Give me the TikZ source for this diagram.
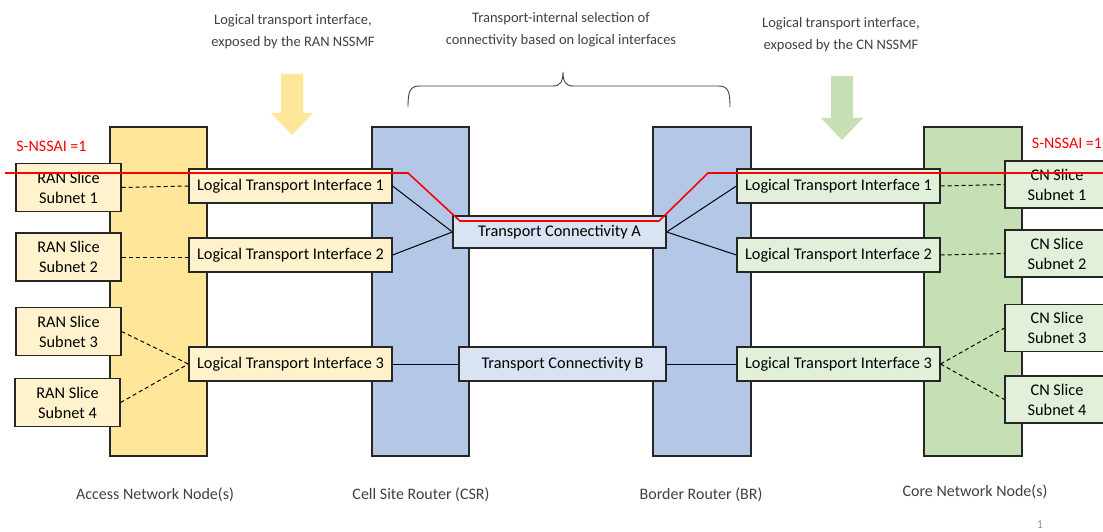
\documentclass[tikz,border=0pt]{standalone}
\usepackage{fontspec}
\setmainfont{Carlito}
\definecolor{colY}{HTML}{FFE699}
\definecolor{boxY}{HTML}{FFF2CC}
\definecolor{colB}{HTML}{B4C7E7}
\definecolor{boxB}{HTML}{DAE3F3}
\definecolor{colG}{HTML}{C5E0B4}
\definecolor{boxG}{HTML}{E2F0D9}
\definecolor{lbl}{HTML}{404040}
\definecolor{redl}{HTML}{FF0000}
\definecolor{pgc}{HTML}{8497B0}
\begin{document}
\begin{tikzpicture}[x=1pt,y=-1pt,
  col/.style={draw=black!85, line width=1.1pt},
  box/.style={draw=black!85, line width=1.2pt, inner sep=0pt, align=center,
    font=\fontsize{16.3}{20}\selectfont},
  ranbox/.style={box, fill=boxY, minimum width=105pt, minimum height=48pt},
  cnbox/.style={box, fill=boxG, minimum width=104pt, minimum height=47pt},
  ltiY/.style={box, fill=boxY, minimum width=203pt, minimum height=34pt},
  ltiG/.style={box, fill=boxG, minimum width=203pt, minimum height=34pt},
  tcbox/.style={box, fill=boxB, minimum height=33pt},
  conn/.style={draw=black, line width=1pt},
  dconn/.style={draw=black, line width=1pt, dash pattern=on 4pt off 3pt},
  toplbl/.style={text=lbl, align=center, font=\fontsize{14.5}{22}\selectfont},
  botlbl/.style={text=lbl, font=\fontsize{16}{19}\selectfont},
  redlbl/.style={text=redl, font=\fontsize{16}{19}\selectfont}]
\useasboundingbox (0,0) rectangle (1103,532);
% columns
\path[col, fill=colY] (110,127) rectangle (207,456);
\path[col, fill=colB] (372,127) rectangle (469,456);
\path[col, fill=colB] (653,127) rectangle (751,456);
\path[col, fill=colG] (924,127) rectangle (1022,456);
% arrows
\fill[colY] (281,74) -- (303,74) -- (303,113) -- (313,113) -- (292,135) -- (271,113) -- (281,113) -- cycle;
\fill[colG] (831,76) -- (853,76) -- (853,118) -- (863,118) -- (842,140) -- (821,118) -- (831,118) -- cycle;
% brace
\draw[lbl, line width=0.9pt] (408,107) .. controls (408,91) and (410,86) .. (420,86) -- (553,86)
  .. controls (560,86) and (563,82) .. (563,72)
  .. controls (563,82) and (566,86) .. (573,86) -- (718,86)
  .. controls (728,86) and (730,91) .. (730,107);
% top labels
\node[toplbl] (t1) at (293,32) {Logical transport interface,\\exposed by the RAN NSSMF};
\node[toplbl] (t2) at (561,30) {Transport-internal selection of\\connectivity based on logical interfaces};
\node[toplbl] (t3) at (841,35) {Logical transport interface,\\exposed by the CN NSSMF};
% RAN boxes
\node[ranbox] (r1) at (68.5,187.5) {RAN Slice\\Subnet 1};
\node[ranbox] (r2) at (68.5,257) {RAN Slice\\Subnet 2};
\node[ranbox] (r3) at (68.5,331.5) {RAN Slice\\Subnet 3};
\node[ranbox] (r4) at (67.5,402.5) {RAN Slice\\Subnet 4};
% left LTIs
\node[ltiY] (l1) at (290.5,186) {Logical Transport Interface 1};
\node[ltiY] (l2) at (290.5,255) {Logical Transport Interface 2};
\node[ltiY] (l3) at (290.5,364) {Logical Transport Interface 3};
% transport connectivity
\node[tcbox, minimum width=213pt, minimum height=32pt] (ta) at (559.5,232) {Transport Connectivity A};
\node[tcbox, minimum width=207pt, minimum height=34pt] (tb) at (562.5,364) {Transport Connectivity B};
% right LTIs
\node[ltiG] (g1) at (838.5,186) {Logical Transport Interface 1};
\node[ltiG] (g2) at (838.5,255) {Logical Transport Interface 2};
\node[ltiG] (g3) at (838.5,364) {Logical Transport Interface 3};
% CN boxes
\node[cnbox] (c1) at (1057,184.5) {CN Slice\\Subnet 1};
\node[cnbox] (c2) at (1057,253.5) {CN Slice\\Subnet 2};
\node[cnbox] (c3) at (1057,328) {CN Slice\\Subnet 3};
\node[cnbox] (c4) at (1057,399.5) {CN Slice\\Subnet 4};
% connectors
\draw[dconn] (r1.east) -- (l1.west);
\draw[dconn] (r2.east) -- (r2.east -| l2.west);
\draw[dconn] (r3.east) -- (l3.west);
\draw[dconn] (r4.east) -- (l3.west);
\draw[conn] (l1.east) -- (ta.west);
\draw[conn] (l2.east) -- (ta.west);
\draw[conn] (l3.east) -- (tb.west);
\draw[conn] (ta.east) -- (g1.west);
\draw[conn] (ta.east) -- (g2.west);
\draw[conn] (tb.east) -- (g3.west);
\draw[dconn] (g1.east) -- (c1.west);
\draw[dconn] (g2.east) -- (c2.west);
\draw[dconn] (g3.east) -- (c3.west);
\draw[dconn] (g3.east) -- (c4.west);
% red path
\draw[redl, line width=1.6pt] (5,173) -- (408,173) -- (460,221) -- (659,221) -- (708,173) -- (1103,173);
\node[redlbl] (s1) at (51.5,146) {S-NSSAI =1};
\node[redlbl] (s2) at (1067,143) {S-NSSAI =1};
% bottom labels
\node[botlbl] (b1) at (155,495) {Access Network Node(s)};
\node[botlbl] (b2) at (421,495) {Cell Site Router (CSR)};
\node[botlbl] (b3) at (701,495) {Border Router (BR)};
\node[botlbl] (b4) at (975,492) {Core Network Node(s)};
\node[text=pgc, font=\fontsize{12}{14}\selectfont] (pg) at (1040,525) {1};
\end{tikzpicture}
\end{document}
